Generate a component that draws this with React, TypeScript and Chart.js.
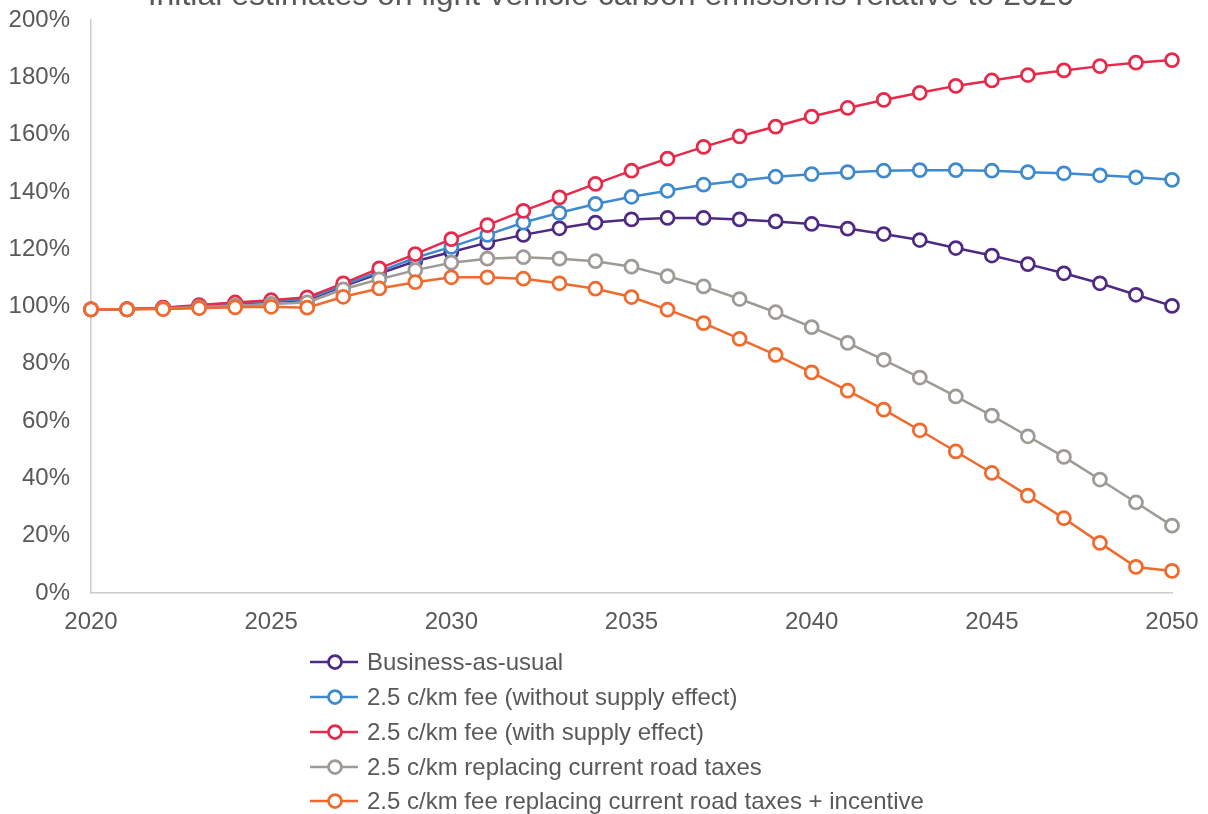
import React, { useEffect, useRef } from "react";
import { Chart, registerables } from "chart.js";

Chart.register(...registerables);

const TITLE = "Initial estimates on light vehicle carbon emissions relative to 2020";

const years = [
  2020, 2021, 2022, 2023, 2024, 2025, 2026, 2027, 2028, 2029, 2030,
  2031, 2032, 2033, 2034, 2035, 2036, 2037, 2038, 2039, 2040,
  2041, 2042, 2043, 2044, 2045, 2046, 2047, 2048, 2049, 2050,
];

const businessAsUsual = [
  99, 99, 99.5, 100.2, 101, 101.7, 102.3, 107, 111.5, 115.8, 119,
  122.3, 125, 127.3, 129.3, 130.4, 130.9, 130.9, 130.4, 129.7, 128.8,
  127.2, 125.3, 123.2, 120.4, 117.8, 114.8, 111.6, 108.1, 104.1, 100.2,
];

const feeWithoutSupply = [
  99, 99, 99.5, 100.3, 101.2, 101.9, 102.6, 107.5, 112.2, 117, 120.8,
  125, 129.3, 132.7, 135.8, 138.3, 140.4, 142.5, 143.9, 145.3, 146.2,
  146.9, 147.4, 147.6, 147.6, 147.4, 146.9, 146.5, 145.8, 145.1, 144.2,
];

const feeWithSupply = [
  99, 99.1, 99.6, 100.5, 101.4, 102.2, 103.2, 108.1, 113.3, 118.3, 123.5,
  128.4, 133.4, 138.1, 142.8, 147.4, 151.6, 155.7, 159.4, 162.8, 166.3,
  169.3, 172.1, 174.6, 177, 178.9, 180.8, 182.4, 183.9, 185.1, 186,
];

const replacingRoadTaxes = [
  99, 99, 99.3, 99.8, 100.3, 100.9, 101.4, 106, 109.5, 112.7, 115.3,
  116.7, 117.2, 116.7, 115.8, 113.9, 110.6, 107, 102.6, 98, 92.8,
  87.3, 81.4, 75.2, 68.6, 61.9, 54.7, 47.5, 39.6, 31.6, 23.5,
];

const replacingPlusIncentive = [
  99, 99, 99.1, 99.4, 99.7, 99.9, 99.6, 103.4, 106.3, 108.5, 110.2,
  110.2, 109.7, 108.1, 106.2, 103.3, 98.9, 94.2, 88.7, 83.1, 77,
  70.6, 64, 56.8, 49.4, 41.9, 34, 26.1, 17.5, 9.1, 7.7,
];

const seriesNames = [
  "Business-as-usual",
  "2.5 c/km fee (without supply effect)",
  "2.5 c/km fee (with supply effect)",
  "2.5 c/km replacing current road taxes",
  "2.5 c/km fee replacing current road taxes + incentive",
];
const seriesValues = [
  businessAsUsual,
  feeWithoutSupply,
  feeWithSupply,
  replacingRoadTaxes,
  replacingPlusIncentive,
];
const seriesColors = ["#4E2A84", "#3E8AD0", "#E8294A", "#9E9A95", "#F06A2C"];

const FONT = "Arial, 'Liberation Sans', sans-serif";
const TEXT = "#595959";

const titlePlugin = {
  id: "cutTitle",
  afterDraw(chart: any) {
    const ctx = chart.ctx;
    ctx.save();
    ctx.font = `32px ${FONT}`;
    ctx.fillStyle = TEXT;
    ctx.textAlign = "center";
    ctx.textBaseline = "alphabetic";
    ctx.fillText(TITLE, 611, 5);
    ctx.restore();
  },
};

export default function App() {
  const ref = useRef<HTMLCanvasElement | null>(null);

  useEffect(() => {
    document.body.style.margin = "0";
    const canvas = ref.current;
    if (!canvas) return;
    const chart = new Chart(canvas, {
      type: "line",
      data: {
        datasets: seriesNames.map((name, i) => ({
          label: name,
          data: years.map((y, j) => ({ x: y, y: seriesValues[i][j] })),
          borderColor: seriesColors[i],
          backgroundColor: "#ffffff",
          pointBackgroundColor: "#ffffff",
          pointBorderColor: seriesColors[i],
          pointRadius: 6.5,
          pointBorderWidth: 2.75,
          borderWidth: 2.5,
          tension: 0,
          clip: false,
          order: 5 - i,
        })),
      },
      options: {
        animation: false,
        responsive: false,
        maintainAspectRatio: false,
        layout: { autoPadding: false, padding: { top: 20, right: 36, bottom: 180, left: 8 } },
        plugins: {
          legend: { display: false },
          title: { display: false },
          tooltip: { enabled: false },
        },
        scales: {
          x: {
            type: "linear",
            min: 2020,
            max: 2050,
            grid: { display: false, drawTicks: false },
            border: { display: true, color: "#cccccc", width: 1.5 },
            afterFit: (s: any) => {
              s.height = 41;
              s.paddingLeft = 0;
              s.paddingRight = 0;
            },
            ticks: {
              stepSize: 5,
              padding: 15,
              color: TEXT,
              font: { family: FONT, size: 24 },
              callback: (v: any) => String(v),
              maxRotation: 0,
            },
          },
          y: {
            min: 0,
            max: 200,
            grid: { display: false, drawTicks: false },
            border: { display: true, color: "#cccccc", width: 1.5 },
            afterFit: (s: any) => {
              s.width = 83;
              s.paddingTop = 0;
              s.paddingBottom = 0;
            },
            ticks: {
              stepSize: 20,
              padding: 21,
              color: TEXT,
              font: { family: FONT, size: 24 },
              callback: (v: any) => `${v}%`,
            },
          },
        },
      },
      plugins: [titlePlugin],
    });
    return () => chart.destroy();
  }, []);

  return (
    <div style={{ position: "relative", width: 1208, height: 814, background: "#fff", overflow: "hidden" }}>
      <canvas ref={ref} width={1208} height={814} style={{ position: "absolute", left: 0, top: 0 }} />
      <div style={{ position: "absolute", left: 310, top: 645, fontFamily: FONT, fontSize: 24, color: TEXT }}>
        {seriesNames.map((name, i) => (
          <div key={name} style={{ display: "flex", alignItems: "center", height: 34.75, whiteSpace: "nowrap" }}>
            <svg width={57} height={20} style={{ flex: "none" }}>
              <line x1={0} y1={10} x2={48} y2={10} stroke={seriesColors[i]} strokeWidth={2.5} />
              <circle cx={25} cy={10} r={6.5} fill="#fff" stroke={seriesColors[i]} strokeWidth={2.75} />
            </svg>
            <span>{name}</span>
          </div>
        ))}
      </div>
    </div>
  );
}
